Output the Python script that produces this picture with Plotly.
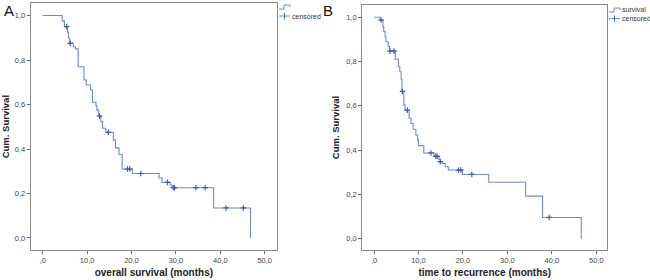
import numpy as np
import plotly.graph_objects as go

# ---------------- data ----------------
# Panel A: overall survival (Kaplan-Meier steps)
os_time = [0, 4.4, 4.9, 5.6, 5.8, 6.1, 6.9, 7.4, 8.0, 9.3, 9.8, 10.8, 11.2, 12.0,
           12.2, 12.6, 13.1, 13.5, 14.2, 15.9, 16.4, 17.2, 17.9, 20.2, 26.2, 26.9,
           28.7, 29.1, 38.5, 46.8]
os_surv = [1.0, 0.975, 0.95, 0.925, 0.898, 0.875, 0.86, 0.85, 0.77, 0.71, 0.688,
           0.665, 0.61, 0.595, 0.575, 0.548, 0.523, 0.493, 0.475, 0.44, 0.405,
           0.375, 0.31, 0.29, 0.27, 0.25, 0.238, 0.226, 0.135, 0.0]
os_censored = [5.4, 6.2, 12.8, 14.8, 19.1, 19.6, 22.1, 28.1, 29.4, 29.7, 34.5,
               36.6, 41.3, 45.2]

# Panel B: time to recurrence (Kaplan-Meier steps)
ttr_time = [0, 1.4, 2.0, 2.2, 2.5, 2.7, 3.2, 3.5, 4.8, 5.5, 5.8, 6.1, 6.3, 6.7,
            7.0, 7.9, 8.3, 8.8, 9.4, 9.8, 10.0, 11.2, 13.5, 14.6, 14.9, 15.3,
            16.0, 16.7, 19.9, 25.8, 34.1, 37.9, 46.6]
ttr_surv = [1.0, 0.987, 0.957, 0.935, 0.912, 0.889, 0.867, 0.847, 0.81, 0.777,
            0.754, 0.72, 0.665, 0.604, 0.58, 0.544, 0.52, 0.494, 0.468, 0.446,
            0.42, 0.387, 0.372, 0.358, 0.348, 0.34, 0.325, 0.31, 0.29, 0.255,
            0.192, 0.096, 0.0]
ttr_censored = [1.6, 3.6, 4.5, 6.4, 7.5, 12.8, 13.9, 14.2, 14.9, 19.0, 19.5,
                22.0, 39.4]

x_ticks = [0, 10, 20, 30, 40, 50]
x_ticktext = [",0", "10,0", "20,0", "30,0", "40,0", "50,0"]
y_ticks = [0, 0.2, 0.4, 0.6, 0.8, 1.0]
y_ticktext = ["0,0", "0,2", "0,4", "0,6", "0,8", "1,0"]

panel_labels = ["A", "B"]
x_titles = ["overall survival (months)", "time to recurrence (months)"]
y_title = "Cum. Survival"
legend_names = ["survival", "censored"]

# ---------------- styling ----------------
W, H = 650, 280
LINE = "rgb(110,138,214)"
MARK = "rgb(60,90,185)"
FRAME = "#8a8a8a"
FONT = "Liberation Sans, Arial, sans-serif"


def step_at(times, surv, t):
    idx = np.searchsorted(np.array(times), t, side="right") - 1
    return [surv[i] for i in idx]


def px(x):
    return x / W


def py(y):
    return 1 - y / H


fig = go.Figure()

panels = [
    dict(t=os_time, s=os_surv, c=os_censored, xa="x", ya="y",
         box=(30.7, 277.0, 3.3, 250.0), xr=[-2.70, 52.77], yr=[-0.054, 1.055]),
    dict(t=ttr_time, s=ttr_surv, c=ttr_censored, xa="x2", ya="y2",
         box=(362.3, 607.3, 5.0, 250.0), xr=[-2.63, 52.46], yr=[-0.051, 1.055]),
]

for p in panels:
    fig.add_trace(go.Scatter(x=p["t"], y=p["s"], mode="lines",
                             line=dict(color=LINE, width=1.1, shape="hv"),
                             xaxis=p["xa"], yaxis=p["ya"], showlegend=False,
                             hoverinfo="skip"))
    fig.add_trace(go.Scatter(x=p["c"], y=step_at(p["t"], p["s"], p["c"]),
                             mode="markers",
                             marker=dict(symbol="cross-thin", size=4,
                                         line=dict(color=MARK, width=1.2)),
                             xaxis=p["xa"], yaxis=p["ya"], showlegend=False,
                             hoverinfo="skip"))

axis_common = dict(showgrid=False, zeroline=False, showline=True, mirror=True,
                   linecolor=FRAME, linewidth=1, ticks="outside", ticklen=3,
                   tickcolor="#666", automargin=False,
                   tickfont=dict(size=7.5, color="#444", family=FONT))

layout = dict(width=W, height=H, margin=dict(l=0, r=0, t=0, b=0),
              paper_bgcolor="white", plot_bgcolor="white", font=dict(family=FONT))
for i, p in enumerate(panels):
    l, r, t, b = p["box"]
    sx = "" if i == 0 else "2"
    layout["xaxis" + sx] = dict(axis_common, domain=[px(l), px(r)], range=p["xr"],
                                tickvals=x_ticks, ticktext=x_ticktext,
                                anchor="y" + sx,
                                title=dict(text="<b>" + x_titles[i] + "</b>",
                                           font=dict(size=10, color="#222"),
                                           standoff=4))
    layout["yaxis" + sx] = dict(axis_common, domain=[py(b), py(t)], range=p["yr"],
                                tickvals=y_ticks, ticktext=y_ticktext,
                                anchor="x" + sx,
                                title=dict(text="<b>" + y_title + "</b>",
                                           font=dict(size=9.5, color="#222"),
                                           standoff=5))
fig.update_layout(**layout)

# panel letters
for lbl, cx in zip(panel_labels, [8.5, 327.5]):
    fig.add_annotation(x=px(cx), y=py(11), xref="paper", yref="paper", text=lbl,
                       showarrow=False, xanchor="center", yanchor="middle",
                       font=dict(size=15, color="#111", family=FONT))


# legends (SPSS-style: step icon + cross icon)
def legend(x0, y_surv, y_cens, show_surv_text):
    fig.add_shape(type="path", xref="paper", yref="paper",
                  path=f"M{px(x0)},{py(y_surv+2)} H{px(x0+5)} V{py(y_surv-2)} H{px(x0+11)} V{py(y_surv)}",
                  line=dict(color=LINE, width=1))
    if show_surv_text:
        fig.add_annotation(x=px(x0 + 12), y=py(y_surv), xref="paper", yref="paper",
                           text=legend_names[0], showarrow=False,
                           xanchor="left", yanchor="middle",
                           font=dict(size=7, color="#333", family=FONT),
                           borderpad=0)
    fig.add_shape(type="line", xref="paper", yref="paper", x0=px(x0), x1=px(x0 + 11),
                  y0=py(y_cens), y1=py(y_cens), line=dict(color=LINE, width=1))
    fig.add_shape(type="line", xref="paper", yref="paper", x0=px(x0 + 5.5), x1=px(x0 + 5.5),
                  y0=py(y_cens - 3), y1=py(y_cens + 3), line=dict(color=MARK, width=1))
    fig.add_annotation(x=px(x0 + 12), y=py(y_cens), xref="paper", yref="paper",
                       text=legend_names[1], showarrow=False,
                       xanchor="left", yanchor="middle",
                       font=dict(size=7, color="#333", family=FONT),
                       borderpad=0)


legend(279, 7, 16, False)
legend(609, 10, 18.5, True)

fig.write_html("out.html", config={"displayModeBar": False},
               post_script="document.body.style.margin='0';document.body.style.overflow='hidden';")
